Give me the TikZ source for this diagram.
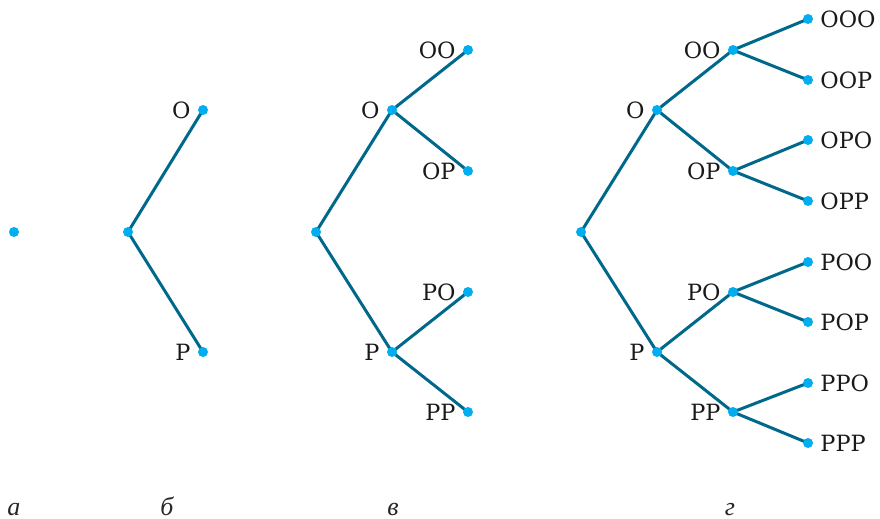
\documentclass[tikz,border=0pt]{standalone}
\usepackage{fontspec}
\setmainfont{DejaVu Serif}
\newfontfamily\capfont{Liberation Serif}
\usetikzlibrary{backgrounds}

\definecolor{branchteal}{RGB}{0,104,139}
\definecolor{dotcyan}{RGB}{0,174,239}

\tikzset{
  dot/.style={circle, fill=dotcyan, inner sep=0pt, minimum size=5pt},
  branch/.style={draw=branchteal, line width=1.5pt},
  lbl/.style={font=\fontsize{11.2}{13}\selectfont, text=black!90},
  captext/.style={font=\capfont\fontsize{13}{15}\selectfont\itshape, text=black!85, anchor=base},
}

\begin{document}
\begin{tikzpicture}[x=0.5pt, y=-0.5pt]
  \useasboundingbox (0,0) rectangle (880,519);

  % а: only the start
  \node[dot] (a0) at (14,232) {};

  % б: one toss
  \node[dot] (b0) at (128,232) {};
  \node[dot, label={[lbl]left:О}] (bO) at (203,110) {};
  \node[dot, label={[lbl]left:Р}] (bP) at (203,352) {};

  % в: two tosses
  \node[dot] (v0) at (316,232) {};
  \node[dot, label={[lbl]left:О}] (vO) at (392,110) {};
  \node[dot, label={[lbl]left:Р}] (vP) at (392,352) {};
  \node[dot, label={[lbl]left:ОО}] (vOO) at (468,50) {};
  \node[dot, label={[lbl]left:ОР}] (vOP) at (468,171) {};
  \node[dot, label={[lbl]left:РО}] (vPO) at (468,292) {};
  \node[dot, label={[lbl]left:РР}] (vPP) at (468,412) {};

  % г: three tosses
  \node[dot] (g0) at (581,232) {};
  \node[dot, label={[lbl]left:О}] (gO) at (657,110) {};
  \node[dot, label={[lbl]left:Р}] (gP) at (657,352) {};
  \node[dot, label={[lbl]left:ОО}] (gOO) at (733,50) {};
  \node[dot, label={[lbl]left:ОР}] (gOP) at (733,171) {};
  \node[dot, label={[lbl]left:РО}] (gPO) at (733,292) {};
  \node[dot, label={[lbl]left:РР}] (gPP) at (733,412) {};
  \foreach \leaf/\txt/\y in {gOOO/ООО/19, gOOP/ООР/80, gOPO/ОРО/140, gOPP/ОРР/201,
                             gPOO/РОО/262, gPOP/РОР/322, gPPO/РРО/383, gPPP/РРР/443}
    \node[dot, label={[lbl]right:\txt}] (\leaf) at (808,\y) {};

  % branches behind the dots
  \begin{scope}[on background layer]
    \foreach \src/\dst in {b0/bO, b0/bP,
                           v0/vO, v0/vP, vO/vOO, vO/vOP, vP/vPO, vP/vPP,
                           g0/gO, g0/gP, gO/gOO, gO/gOP, gP/gPO, gP/gPP,
                           gOO/gOOO, gOO/gOOP, gOP/gOPO, gOP/gOPP,
                           gPO/gPOO, gPO/gPOP, gPP/gPPO, gPP/gPPP}
      \draw[branch] (\src.center) -- (\dst.center);
  \end{scope}

  % captions
  \foreach \name/\x/\c in {capa/14/а, capb/167/б, capv/393/в, capg/730/г}
    \node[captext] (\name) at (\x,516) {\c};
\end{tikzpicture}
\end{document}
